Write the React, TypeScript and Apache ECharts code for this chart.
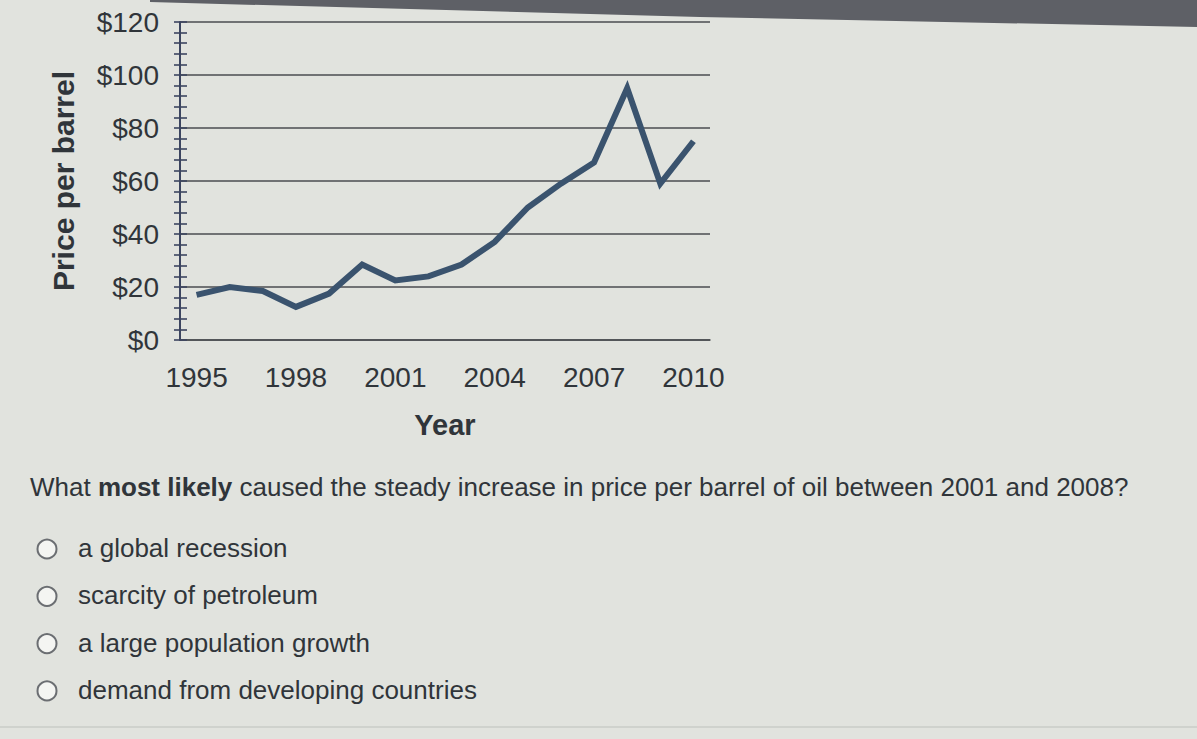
import React, { useRef, useEffect } from 'react';
import * as echarts from 'echarts';

const years = ['1995', '1996', '1997', '1998', '1999', '2000', '2001', '2002', '2003', '2004', '2005', '2006', '2007', '2008', '2009', '2010'];
const prices = [17, 20, 18.5, 12.5, 17.5, 28.5, 22.5, 24, 28.5, 37, 50, 59, 67, 95, 59, 75];
const choices = ['a global recession', 'scarcity of petroleum', 'a large population growth', 'demand from developing countries'];

const FONT = '"Liberation Sans", Arial, sans-serif';
const TEXT = '#30353a';

export default function App() {
  const chartRef = useRef<HTMLDivElement>(null);

  useEffect(() => {
    if (!chartRef.current) return;
    const chart = echarts.init(chartRef.current, undefined, { renderer: 'svg' });

    const yCommon = {
      type: 'value' as const,
      min: 0,
      max: 120,
      interval: 20,
      position: 'left' as const,
    };

    const option: echarts.EChartsOption = {
      animation: false,
      backgroundColor: '#e1e3de',
      grid: { left: 180, top: 22, width: 530, height: 318 },
      xAxis: {
        type: 'category',
        data: years,
        boundaryGap: true,
        name: 'Year',
        nameLocation: 'middle',
        nameGap: 70,
        nameTextStyle: { fontFamily: FONT, fontSize: 29, fontWeight: 'bold', color: TEXT },
        axisLine: { show: true, lineStyle: { color: '#4a4d50', width: 1.5 } },
        axisTick: { show: false },
        axisLabel: { interval: 2, margin: 23, fontFamily: FONT, fontSize: 28, color: TEXT },
      },
      yAxis: [
        {
          ...yCommon,
          name: 'Price per barrel',
          nameLocation: 'middle',
          nameGap: 102,
          nameTextStyle: { fontFamily: FONT, fontSize: 30, fontWeight: 'bold', color: TEXT },
          axisLine: { show: true, lineStyle: { color: '#3c4560', width: 2 } },
          axisTick: { show: true, length: 6, lineStyle: { color: '#3c4560', width: 1.6 } },
          minorTick: { show: true, splitNumber: 5, length: 6, lineStyle: { color: '#3c4560', width: 1.6 } },
          axisLabel: { margin: 21, fontFamily: FONT, fontSize: 28, color: TEXT, formatter: (v: number) => '$' + v },
          splitLine: { show: true, lineStyle: { color: '#4a4d50', width: 1.6 } },
        },
        {
          ...yCommon,
          axisLine: { show: false },
          axisTick: { show: true, inside: true, length: 7, lineStyle: { color: '#3c4560', width: 1.6 } },
          minorTick: { show: true, splitNumber: 5, length: 7, lineStyle: { color: '#3c4560', width: 1.6 } },
          axisLabel: { show: false },
          splitLine: { show: false },
        },
      ],
      series: [
        {
          type: 'line',
          data: prices,
          yAxisIndex: 0,
          symbol: 'none',
          lineStyle: { color: '#3a536e', width: 6, join: 'miter' },
        },
      ],
      graphic: [
        {
          type: 'polygon',
          shape: { points: [[150, 0], [1197, 0], [1197, 27], [700, 17], [150, 2]] },
          style: { fill: '#5e6066' },
          silent: true,
        },
        {
          type: 'text',
          left: 30,
          top: 474,
          style: {
            text: '{n|What }{b|most likely}{n| caused the steady increase in price per barrel of oil between 2001 and 2008?}',
            rich: {
              n: { fontFamily: FONT, fontSize: 26, fill: TEXT },
              b: { fontFamily: FONT, fontSize: 26, fontWeight: 'bold', fill: TEXT },
            },
          },
        },
        ...choices.flatMap((c, i) => [
          {
            type: 'circle' as const,
            shape: { cx: 47, cy: 549 + i * 47.3, r: 9.5 },
            style: { fill: '#f4f5f2', stroke: '#6b6e72', lineWidth: 2 },
          },
          {
            type: 'text' as const,
            left: 78,
            top: 535 + i * 47.3,
            style: { text: c, fontFamily: FONT, fontSize: 26, fill: TEXT },
          },
        ]),
        {
          type: 'line',
          shape: { x1: 0, y1: 727, x2: 1197, y2: 727 },
          style: { stroke: '#c9ccc7', lineWidth: 1.5 },
        },
      ],
    };

    chart.setOption(option);
    return () => chart.dispose();
  }, []);

  return (
    <div
      ref={chartRef}
      style={{ position: 'fixed', left: 0, top: 0, width: 1197, height: 739 }}
    />
  );
}
